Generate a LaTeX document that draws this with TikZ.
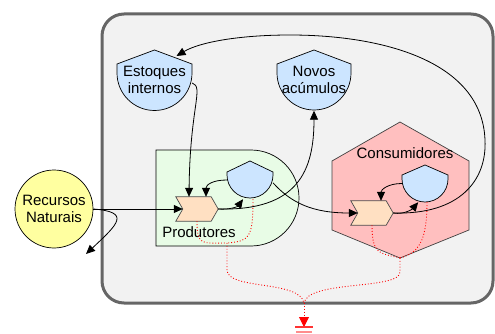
\documentclass[tikz,border=0pt]{standalone}
\usepackage{fontspec}
\setmainfont{Liberation Sans}
\usetikzlibrary{arrows.meta}

\definecolor{framefill}{RGB}{242,242,242}
\definecolor{frameline}{RGB}{102,102,102}
\definecolor{tankblue}{RGB}{204,229,255}
\definecolor{chevpeach}{RGB}{255,224,194}
\definecolor{prodgreen}{RGB}{232,252,230}
\definecolor{conspink}{RGB}{255,191,191}
\definecolor{srcyellow}{RGB}{255,255,160}

% outline of an interaction symbol round a named box
\newcommand{\chevronoutline}[1]{%
  \filldraw[chev] (#1.north west) -- ([xshift=-7pt]#1.north east) -- (#1.east)
    -- ([xshift=-7pt]#1.south east) -- (#1.south west) -- ([xshift=7pt]#1.west) -- cycle;}

\begin{document}
\begin{tikzpicture}[x=1pt, y=-1pt, font=\fontsize{15}{17.5}\selectfont,
    flow/.style={-{Triangle[length=9pt,width=8pt]}, line width=0.8pt},
    heat/.style={red, dotted, line width=0.9pt},
    tank/.style={draw, fill=tankblue, line width=0.7pt},
    chev/.style={draw=black!70, fill=chevpeach, line width=0.7pt},
    hold/.style={inner sep=0pt, align=center}]
    \useasboundingbox (0,0) rectangle (495,334);

    % system frame and subsystems
    \filldraw[draw=frameline, fill=framefill, line width=3pt, rounded corners=22pt]
        (102,14) rectangle (493,303);
    \filldraw[fill=prodgreen, line width=0.7pt] (156,150) -- (251,150)
        arc[start angle=-90, end angle=90, radius=48] -- (156,246) -- cycle;
    \filldraw[fill=conspink, draw=black!75, line width=0.7pt] (400,122) -- (469,161) -- (469,230)
        -- (400,258) -- (332,230) -- (332,161) -- cycle;
    \node[hold] (prodlbl) at (199,232) {Produtores};
    \node[hold] (conslbl) at (405,153) {Consumidores};

    % storage tanks: centre x / top / half width / shoulder / side
    \foreach \x/\y/\w/\d/\s in {154.5/50/37.5/14/9, 314/50/37/14/9, 250/161/23/11/3, 425/165/23/10/4} {
        \filldraw[tank] (\x,\y) -- ++(\w,\d) -- ++(0,\s)
            arc[start angle=0, end angle=180, radius=\w] -- ++(0,-\s) -- cycle;
    }
    \node[hold, minimum width=75pt, minimum height=61pt] (ei) at (154.5,80) {Estoques\\internos};
    \node[hold, minimum width=74pt, minimum height=61pt] (na) at (314,80) {Novos\\acúmulos};
    \node[hold, minimum width=46pt, minimum height=38pt] (pt) at (250,180) {};
    \node[hold, minimum width=46pt, minimum height=37pt] (ct) at (425,183.5) {};

    % interactions
    \node[hold, minimum width=42pt, minimum height=24pt] (pc) at (197,209) {};
    \node[hold, minimum width=42pt, minimum height=24pt] (cc) at (372,213) {};
    \chevronoutline{pc}
    \chevronoutline{cc}

    % source
    \node[circle, draw, fill=srcyellow, minimum size=78pt, inner sep=0pt, align=center,
        line width=0.7pt] (rn) at (54,209) {Recursos\\Naturais};
    \coordinate (out) at (86,254);

    % flows
    \draw[flow] (rn.east) -- ([xshift=7pt]pc.west);
    \draw[flow] (rn.east) .. controls +(38,3) and +(32,-30) .. (out);
    \draw[flow] ([yshift=-3pt]ei.east) .. controls +(12,4) and +(1,-90) .. ([xshift=-8pt]pc.north);
    \draw[flow] (pt.west) .. controls +(-14,0) and +(0,-12) .. ([xshift=9pt]pc.north);
    \draw[flow] (pc.east) .. controls +(12,1) and +(-5,7) .. (pt.250);
    \draw[flow] (pc.east) .. controls +(80,2) and +(0,60) .. (na.south);
    \draw[flow] ([yshift=-3pt]pt.east) .. controls +(18,20) and +(-45,0) .. ([xshift=7pt]cc.west);
    \draw[flow] (ct.west) .. controls +(-14,0) and +(0,-11) .. ([xshift=9pt]cc.north);
    \draw[flow] (cc.east) .. controls +(12,2) and +(-5,6) .. (ct.250);
    \draw[flow] (cc.east) .. controls +(67,2) and +(2,40) .. (485,140)
        .. controls (482,60) and (380,35) .. (290,35)
        .. controls (240,35) and (200,42) .. ([shift={(22,-24)}]ei.center);

    % heat sinks
    \coordinate (hp) at (227,243);
    \coordinate (hc) at (400,258);
    \coordinate (hs) at (304,303);
    \coordinate (sink) at (304,327);
    \draw[heat] (pc.south) .. controls +(0,25) and +(-25,0) .. (hp);
    \draw[heat] ([xshift=3pt]pt.south) .. controls +(0,40) and +(22,-2) .. (hp);
    \draw[heat] (cc.south) .. controls +(0,30) and +(-20,-5) .. (hc);
    \draw[heat] ([xshift=2pt]ct.south) .. controls +(0,40) and +(18,-5) .. (hc);
    \draw[heat] (hp) -- (227,270) .. controls (227,290) and (300,280) .. (hs);
    \draw[heat] (hc) -- (400,272) .. controls (400,290) and (308,280) .. (hs);
    \draw[heat, -{Triangle[length=10pt,width=10pt]}] (hs) -- (sink);
    \draw[red!80, line width=1.5pt] ([xshift=-9pt]sink) -- ([xshift=9pt]sink);
    \draw[red!45, line width=1.5pt] ([shift={(-8,5)}]sink) -- ([shift={(8,5)}]sink);
\end{tikzpicture}
\end{document}
